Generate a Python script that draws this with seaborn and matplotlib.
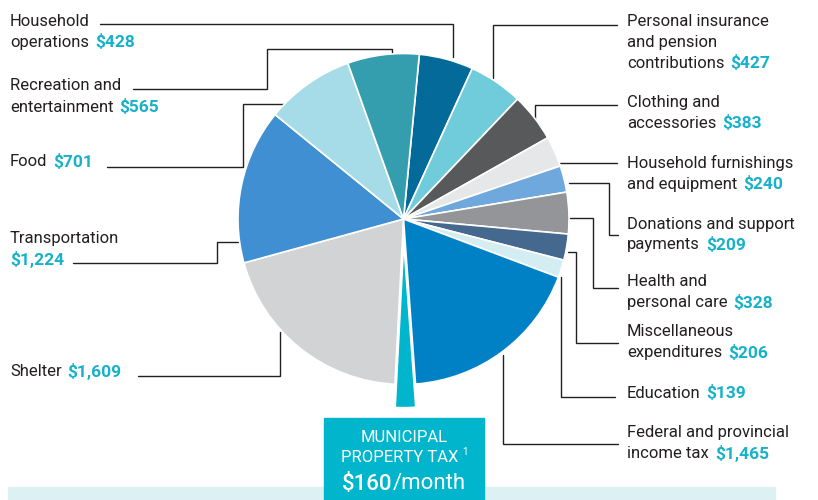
import matplotlib
matplotlib.use("Agg")
import matplotlib.pyplot as plt
import seaborn as sns
from matplotlib.patches import Rectangle

# monthly spending, clockwise from the top of the pie
categories = ["Household operations", "Personal insurance and pension contributions",
              "Clothing and accessories", "Household furnishings and equipment",
              "Donations and support payments", "Health and personal care",
              "Miscellaneous expenditures", "Education", "Federal and provincial income tax",
              "Municipal property tax", "Shelter", "Transportation", "Food",
              "Recreation and entertainment"]
values = [428, 427, 383, 240, 209, 328, 206, 139, 1465, 160, 1609, 1224, 701, 565]
colors = ["#046A9A", "#70CBDB", "#58595B", "#E6E7E8", "#6FA8DC", "#939598", "#45688E",
          "#D3EDF3", "#0081C6", "#00B5CC", "#D1D3D4", "#3F8FD2", "#A6DCE8", "#349EAE"]
label_lines = [["Household", "operations"], ["Personal insurance", "and pension", "contributions"],
               ["Clothing and", "accessories"], ["Household furnishings", "and equipment"],
               ["Donations and support", "payments"], ["Health and", "personal care"],
               ["Miscellaneous", "expenditures"], ["Education"], ["Federal and provincial", "income tax"],
               None, ["Shelter"], ["Transportation", ""], ["Food"], ["Recreation and", "entertainment"]]

# layout: first-line position of each label and its leader line (pixels, y down)
label_pos = [(10, 21), (627, 21), (627, 102), (627, 163), (627, 224), (627, 282), (627, 332),
             (627, 393), (627, 433), None, (10, 372), (10, 239), (10, 162), (10, 86)]
leaders = [
    [(100, 24), (453, 24), (453, 57)],
    [(617, 25), (493, 25), (493, 78)],
    [(617, 105), (535, 105), (535, 127)],
    [(560, 163), (617, 163)],
    [(569, 183), (609, 183), (609, 235), (618, 235)],
    [(570, 218), (593, 218), (593, 288), (618, 288)],
    [(568, 252), (576, 252), (576, 343), (618, 343)],
    [(561, 277), (561, 397), (615, 397)],
    [(503, 355), (503, 444), (618, 444)],
    None,
    [(138, 376), (280, 376), (280, 332)],
    [(73, 263), (217, 263), (217, 242), (240, 242)],
    [(107, 167), (243, 167), (243, 104), (284, 104)],
    [(133, 89), (267, 89), (267, 49), (392, 49), (392, 55)],
]

sns.set_theme(style="white")
plt.rcParams["font.family"] = ["Roboto", "DejaVu Sans"]
txt = "#231F20"
cyan = "#17B1CA"

fig = plt.figure(figsize=(8.18, 5), dpi=100)
bg = fig.add_axes([0, 0, 1, 1])
bg.set_xlim(0, 818)
bg.set_ylim(500, 0)
bg.axis("off")

R, cx, cy = 165.5, 403.5, 219
ax = fig.add_axes([(cx - R) / 818, (500 - cy - R) / 500, 2 * R / 818, 2 * R / 500])
explode = [0.14 if c.startswith("Municipal") else 0 for c in categories]
wedges, _ = ax.pie(values, colors=colors, startangle=84.5, counterclock=False, explode=explode,
                   wedgeprops=dict(edgecolor="white", linewidth=1.2))
ax.set_xlim(-1, 1)
ax.set_ylim(-1, 1)
ax.set_aspect("equal")
ax.axis("off")
for w in wedges:
    w.set_clip_on(False)

renderer = fig.canvas.get_renderer()
for lines, val, pos, path in zip(label_lines, values, label_pos, leaders):
    if lines is None:
        continue
    x, y = pos
    for i, line in enumerate(lines):
        t = bg.text(x, y + i * 21, line, fontsize=12, color=txt, va="center", ha="left")
    vx = x
    if lines[-1]:
        vx = x + t.get_window_extent(renderer).width + 6
    bg.text(vx, y + (len(lines) - 1) * 21, f"\\${val:,}", fontsize=12.5, fontweight="bold",
            color=cyan, va="center", ha="left")
    xs, ys = zip(*path)
    bg.plot(xs, ys, color=txt, lw=1.0, solid_joinstyle="miter")

# municipal property tax call-out
muni = values[categories.index("Municipal property tax")]
bg.add_patch(Rectangle((8, 487), 767, 13, color="#DDF0F4", zorder=1))
bg.add_patch(Rectangle((324, 418), 160, 82, color=colors[9], zorder=2))
bg.text(404, 437, "MUNICIPAL", fontsize=12, color="white",
        ha="center", va="center", zorder=3)
t = bg.text(400, 457, "PROPERTY TAX", fontsize=12, color="white",
            ha="center", va="center", zorder=3)
w = t.get_window_extent(renderer).width
bg.text(400 + w / 2 + 3, 452, "1", fontsize=7, color="white", ha="left", va="center", zorder=3)
a = bg.text(0, 484, f"\\${muni}", fontsize=16, fontweight="medium", color="white",
            ha="left", va="center", zorder=3)
b = bg.text(0, 484, "/month", fontsize=16, color="white",
            ha="left", va="center", zorder=3)
wa = a.get_window_extent(renderer).width
wb = b.get_window_extent(renderer).width
a.set_x(404 - (wa + wb) / 2)
b.set_x(404 - (wa + wb) / 2 + wa)

fig.savefig("out.png", dpi=100)
